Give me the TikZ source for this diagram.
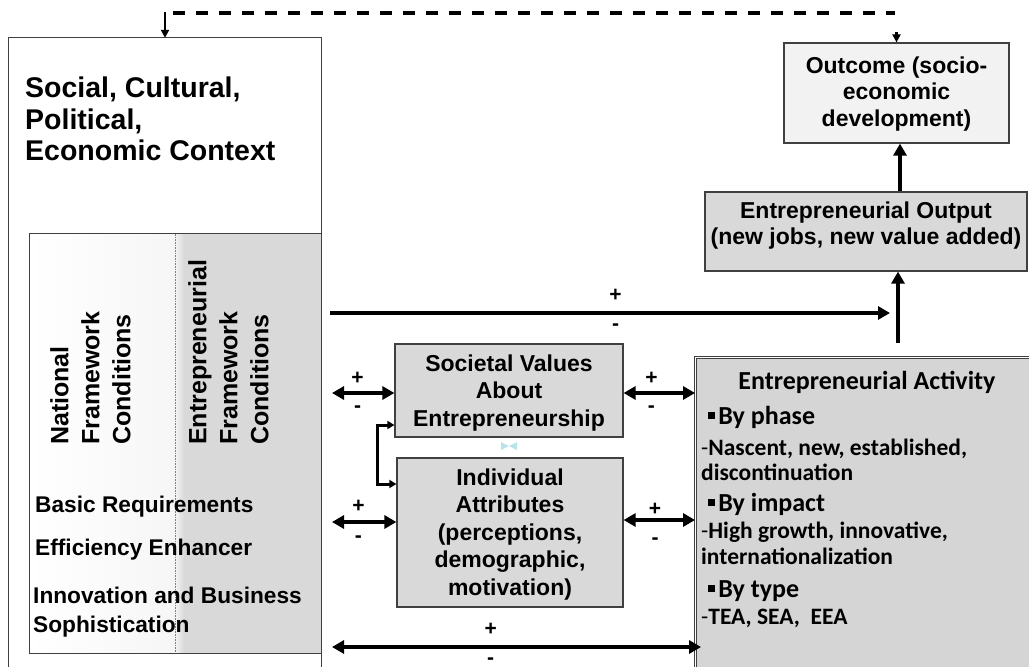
\documentclass[tikz,border=0pt]{standalone}
\usepackage{fontspec}
\setmainfont{Liberation Sans}
\newfontfamily\calib{Carlito}
\usetikzlibrary{arrows.meta}
\definecolor{boxgray}{HTML}{D9D9D9}
\definecolor{actgray}{HTML}{D5D5D5}
\definecolor{outcgray}{HTML}{F2F2F2}
\definecolor{edgecol}{HTML}{404040}
\definecolor{bowtie}{HTML}{B9E3E9}
\newcommand{\sqbul}{\rule[0.2em]{0.27em}{0.27em}\hspace{0.12em}}
\begin{document}
\begin{tikzpicture}[x=1pt,y=-1pt,
  box/.style={draw=edgecol, line width=1.2pt, inner sep=0pt, rectangle},
  bt/.style={font=\bfseries\fontsize{23}{26}\selectfont, align=center, inner sep=0pt},
  bt2/.style={font=\bfseries\fontsize{23}{27.5}\selectfont, align=center},
  arr/.style={line width=4pt, -{Triangle[length=12pt,width=13pt]}},
  darr/.style={line width=4pt, {Triangle[length=12pt,width=13pt]}-{Triangle[length=12pt,width=13pt]}},
  barr/.style={line width=3pt, {Triangle[length=7pt,width=8pt]}-{Triangle[length=7pt,width=8pt]}},
  fbarr/.style={line width=2.2pt, -{Triangle[length=8pt,width=8pt]}},
  fbdash/.style={line width=3.3pt, dash pattern=on 12pt off 11pt},
  pm/.style={font=\bfseries\fontsize{21}{21}\selectfont, inner sep=0pt, anchor=base},
  actt/.style={font=\calib\bfseries\fontsize{26}{30}\selectfont, inner sep=0pt, anchor=base west},
  acts/.style={font=\calib\bfseries\fontsize{23.5}{28}\selectfont, inner sep=0pt, anchor=base west},
]
\useasboundingbox (0,0) rectangle (1029,667);
\fill[white] (0,0) rectangle (1029,667);
\clip (0,0) rectangle (1029,667);

% context box (open at bottom)
\node[minimum width=312pt, minimum height=700pt, inner sep=0pt] (ctx) at (165,388) {};
\draw[edgecol, line width=1.3pt] (ctx.south west) -- (ctx.north west) -- (ctx.north east) -- (ctx.south east);
\node[anchor=north west, align=left, inner sep=0pt, font=\bfseries\fontsize{28.5}{31.5}\selectfont] (ctxt) at (25,77) {Social, Cultural,\\Political,\\Economic Context};

% framework conditions box
\node[minimum width=291pt, minimum height=419pt, inner sep=0pt] (fw) at (175.5,443.5) {};
\coordinate (div) at (175,0);
\shade[left color=white, right color=gray!7] (fw.north west) rectangle (fw.south -| div);
\fill[boxgray] (fw.north -| div) rectangle (fw.south east);
\shade[left color=gray!9, right color=boxgray] (fw.north -| div) rectangle ([xshift=9pt]fw.south -| div);
\draw[gray, densely dotted, line width=0.6pt] (fw.north -| div) -- (fw.south -| div);
\draw[edgecol, line width=1.2pt] (fw.north west) rectangle (fw.south east);

\node[rotate=90, anchor=north west, align=left, inner sep=0pt, font=\bfseries\fontsize{25}{31}\selectfont] (nfc) at (50,445) {National\\Framework\\Conditions};
\node[rotate=90, anchor=north west, align=left, inner sep=0pt, font=\bfseries\fontsize{25}{31}\selectfont] (efc) at (188,445) {Entrepreneurial\\Framework\\Conditions};
\node[anchor=base west, inner sep=0pt, font=\bfseries\fontsize{22.7}{29}\selectfont] (br) at (35,512) {Basic Requirements};
\node[anchor=base west, inner sep=0pt, font=\bfseries\fontsize{22.7}{29}\selectfont] (ee) at (35,555) {Efficiency Enhancer};
\node[anchor=north west, align=left, inner sep=0pt, font=\bfseries\fontsize{22.7}{29}\selectfont] (ib) at (33,586.5) {Innovation and Business\\Sophistication};

% outcome and output
\node[box, fill=outcgray, minimum width=225pt, minimum height=100pt] (outc) at (896.5,93) {};
\node[bt, font=\bfseries\fontsize{23}{26.5}\selectfont] (outct) at (896.5,94) {Outcome (socio-\\economic\\development)};
\node[box, fill=boxgray, minimum width=322pt, minimum height=79pt] (out) at (866,231.5) {};
\node[bt] (outt) at (866,226) {Entrepreneurial Output\\(new jobs, new value added)};

% societal values and individual attributes
\node[box, fill=boxgray, minimum width=228pt, minimum height=93pt] (sv) at (509,390.5) {};
\node[bt2, inner sep=0pt] (svt) at (509,393) {Societal Values\\About\\Entrepreneurship};
\node[box, fill=boxgray, minimum width=226pt, minimum height=149pt] (ia) at (510,532.5) {};
\node[bt2, inner sep=0pt] (iat) at (510,534.5) {Individual\\Attributes\\(perceptions,\\demographic,\\motivation)};
\fill[bowtie] (501,442) -- (509,446) -- (501,450) -- cycle;
\fill[bowtie] (517,442) -- (509,446) -- (517,450) -- cycle;

% entrepreneurial activity
\node[draw=edgecol, double=white, double distance=1.5pt, line width=0.9pt, fill=actgray, minimum width=340pt, minimum height=340pt, inner sep=0pt] (act) at (865.5,527.5) {};
\node[font=\calib\bfseries\fontsize{26}{30}\selectfont, inner sep=0pt, anchor=base] (a0) at (867,389) {Entrepreneurial Activity};
\node[actt] (a1) at (708,424) {\sqbul By phase};
\node[acts] (a2) at (701,455) {\textmd{-}Nascent, new, established,};
\node[acts] (a3) at (701,480) {discontinuation};
\node[actt] (a4) at (708,511) {\sqbul By impact};
\node[acts] (a5) at (701,538) {\textmd{-}High growth, innovative,};
\node[acts] (a6) at (701,564) {internationalization};
\node[actt] (a7) at (708,597) {\sqbul By type};
\node[acts] (a8) at (701,624) {\textmd{-}TEA, SEA,\ \ EEA};

% feedback dashed connector
\coordinate (fbL) at (165,13);
\coordinate (fbR) at (896.5,13);
\draw[fbarr] ([yshift=1.5pt]fbL) -- (ctx.north);
\draw[fbdash] ([xshift=8pt]fbL) -- ([xshift=-1.5pt]fbR);
\draw[fbarr] ([yshift=-19pt]fbR) -- (outc.north);

% vertical arrows
\coordinate (v2) at (900,0);
\draw[arr] (out.north -| v2) -- (outc.south -| v2);
\coordinate (v1) at (898,343);
\draw[arr] (v1) -- (v1 |- out.south);

% horizontal arrow to output
\coordinate (h1) at (330,313);
\coordinate (h2) at (890,313);
\draw[arr] (h1) -- (h2)
  node[pm, pos=0.51, yshift=12pt] {+}
  node[pm, pos=0.51, yshift=-17pt] {-};

% double arrows
\coordinate (p1) at (332,393);
\draw[darr] (p1) -- (p1 -| sv.west)
  node[pm, pos=0.41, yshift=9pt] {+}
  node[pm, pos=0.41, yshift=-19pt] {-};
\draw[darr] (p1 -| sv.east) -- (p1 -| act.west)
  node[pm, pos=0.39, yshift=9pt] {+}
  node[pm, pos=0.39, yshift=-19pt] {-};
\coordinate (p3) at (332,522);
\draw[darr] (p3) -- (p3 -| ia.west)
  node[pm, pos=0.41, yshift=10pt] {+}
  node[pm, pos=0.41, yshift=-20pt] {-};
\coordinate (p4) at (623,520);
\draw[darr] (p4 -| ia.east) -- (p4 -| act.west)
  node[pm, pos=0.44, yshift=5pt] {+}
  node[pm, pos=0.44, yshift=-24pt] {-};
\coordinate (p5) at (332,647);
\draw[darr] (p5) -- ([xshift=6pt]p5 -| act.west)
  node[pm, pos=0.43, yshift=12pt] {+}
  node[pm, pos=0.43, yshift=-17pt] {-};

% bracket between societal values and individual attributes
\draw[barr] ([yshift=-34.5pt]sv.west) -- ++(-17,0) |- ([yshift=48.5pt]ia.west);
\end{tikzpicture}
\end{document}
